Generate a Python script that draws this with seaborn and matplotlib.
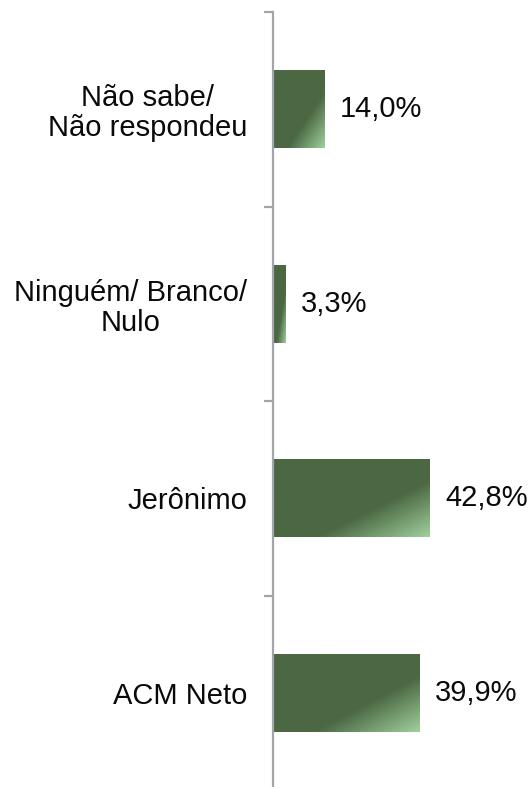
import numpy as np
import pandas as pd
import matplotlib
matplotlib.use("Agg")
import matplotlib.pyplot as plt
from matplotlib.colors import LinearSegmentedColormap
import seaborn as sns

categories = ["Não sabe/\nNão respondeu", "Ninguém/ Branco/\nNulo", "Jerônimo", "ACM Neto"]
values = [14.0, 3.3, 42.8, 39.9]
value_labels = ["14,0%", "3,3%", "42,8%", "39,9%"]

sns.set_theme(style="white")
plt.rcParams['font.family'] = ['Liberation Sans', 'DejaVu Sans']

W, H = 532, 787
fig = plt.figure(figsize=(W / 100, H / 100), dpi=100)
ax = fig.add_axes([272.5 / W, -3 / H, 259.5 / W, 778 / H])

df = pd.DataFrame({"cat": categories, "val": values})
sns.barplot(data=df, y="cat", x="val", orient="h", width=0.4,
            color="#4b6843", saturation=1, ax=ax)

xmax = 259.5 / 3.665
ax.set_xlim(0, xmax)
ax.set_ylim(3.5, -0.5)

# gradient fill clipped to each bar
dark = "#4b6843"
light = "#9fd09c"
cmap = LinearSegmentedColormap.from_list(
    "g", [(0.0, dark), (0.64, dark), (1.0, light)])
n = 200
u = np.linspace(0, 1, n)[None, :]
v = np.linspace(0, 1, n)[:, None]
grad = (u + v) / 2.0
for p in ax.patches:
    x0, y0 = p.get_x(), p.get_y()
    w, h = p.get_width(), p.get_height()
    im = ax.imshow(grad, cmap=cmap, vmin=0, vmax=1, aspect="auto",
                   extent=(x0, x0 + w, y0 + h, y0), origin="upper",
                   interpolation="bilinear", zorder=p.get_zorder() + 0.1)
    im.set_clip_path(p)
ax.set_xlim(0, xmax)
ax.set_ylim(3.5, -0.5)

ax.bar_label(ax.containers[0], labels=value_labels, padding=11.5,
             fontsize=21, color="#0a0a0a")

for s in ["top", "right", "bottom"]:
    ax.spines[s].set_visible(False)
ax.spines["left"].set_color("#a2a6ab")
ax.spines["left"].set_linewidth(1.6)

ax.set_xticks([])
ax.set_xlabel("")
ax.set_ylabel("")
ax.set_yticks(range(len(categories)))
ax.set_yticklabels(categories, fontsize=21, color="#0a0a0a")
ax.tick_params(axis="y", which="major", left=True, length=0, pad=18)
for lbl in ax.get_yticklabels():
    lbl.set_multialignment("center")
    lbl.set_linespacing(1.08)
ax.set_yticks([-0.5, 0.5, 1.5, 2.5, 3.5], minor=True)
ax.tick_params(axis="y", which="minor", left=True, length=6.5, width=1.6,
               color="#a2a6ab", direction="out")

fig.savefig("out.png", dpi=100, facecolor="white")
